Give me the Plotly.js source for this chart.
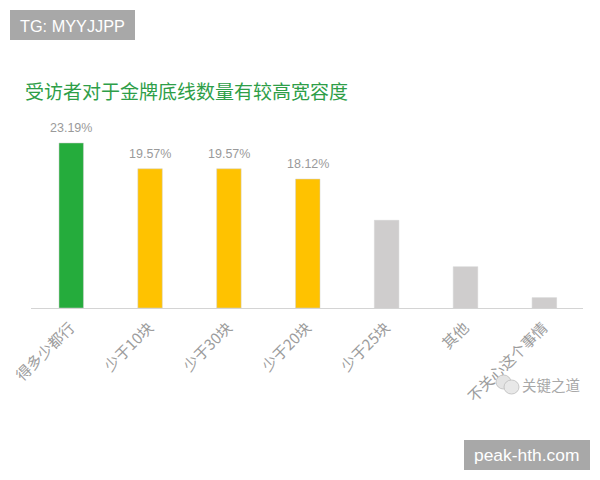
<!DOCTYPE html>
<html><head><meta charset="utf-8">
<script src="https://cdn.plot.ly/plotly-3.0.0.min.js"></script>
<style>html,body{margin:0;padding:0;background:#fff}#c{width:600px;height:480px}</style>
</head><body><div id="c"></div>
<script>
const categories = ['得多少都行','少于10块','少于30块','少于20块','少于25块','其他','不关心这个事情'];
const values = [23.19,19.57,19.57,18.12,12.32,5.80,1.45];
const labels = ['23.19%','19.57%','19.57%','18.12%','','',''];
const barColors = ['#25AC3C','#FFC200','#FFC200','#FFC200','#CFCDCD','#CFCDCD','#CFCDCD'];
const titleText = '受访者对于金牌底线数量有较高宽容度';
const W=600,H=480,L=31,R=583,T=120,B=308;
const px=x=>(x-L)/(R-L), py=y=>(B-y)/(B-T);
const font='"Noto Sans CJK SC","Liberation Sans",sans-serif';
function box(x0,y0,x1,y1,fill){return {type:'rect',xref:'paper',yref:'paper',x0:px(x0),x1:px(x1),y0:py(y1),y1:py(y0),fillcolor:fill,line:{width:0},layer:'above'};}
function ell(x0,y0,x1,y1,fill,lc){return {type:'circle',xref:'paper',yref:'paper',x0:px(x0),x1:px(x1),y0:py(y1),y1:py(y0),fillcolor:fill,line:{width:0.8,color:lc},layer:'above'};}
function note(t,x,y,size,color,fam,anchor){return {text:t,xref:'paper',yref:'paper',x:px(x),y:py(y),xanchor:anchor||'left',yanchor:'middle',showarrow:false,font:{size:size,color:color,family:fam||font}};}
const valueNotes = labels.map((t,i)=>t?{text:t,x:categories[i],y:values[i],xref:'x',yref:'y',xanchor:'center',yanchor:'bottom',yshift:6,showarrow:false,
  font:{size:12.5,color:'#9a9a9a',family:'"Liberation Sans",sans-serif'}}:null).filter(Boolean);
Plotly.newPlot('c',[{
  type:'bar',x:categories,y:values,width:0.31,
  marker:{color:barColors,line:{color:'rgba(210,210,210,0.5)',width:1}},
  hoverinfo:'skip'
}],{
  width:W,height:H,showlegend:false,paper_bgcolor:'#fff',plot_bgcolor:'#fff',
  margin:{l:L,r:W-R,t:T,b:H-B,pad:0},
  xaxis:{type:'category',range:[-0.51,6.49],tickangle:-45,showgrid:false,zeroline:false,ticks:'',showline:true,linecolor:'#d4d4d4',linewidth:1,
    tickfont:{size:15,color:'#9c9c9c',family:font},automargin:false,ticklen:0,ticklabelstandoff:4,ticklabelshift:-1},
  yaxis:{range:[0,26.42],visible:false,fixedrange:true},
  shapes:[box(10,10,135,40,'#a8a8a8'),box(464,440,590,470,'#a8a8a8'),
    ell(496,375,511,389,'#e4e4e4','#bdbdbd'),ell(504,380,519,394,'#e8e8e8','#bdbdbd')],
  annotations:valueNotes.concat([
    note('TG: MYYJJPP',18,25.5,16.3,'#fff','"Liberation Sans",sans-serif'),
    note('peak-hth.com',472,455,17.4,'#fff','"Liberation Sans",sans-serif'),
    note(titleText,23,90.5,19,'#2E9E48'),
    note('关键之道',520,384.5,14.5,'#a8a8a8')
  ])
},{displayModeBar:false,staticPlot:true});
</script></body></html>
